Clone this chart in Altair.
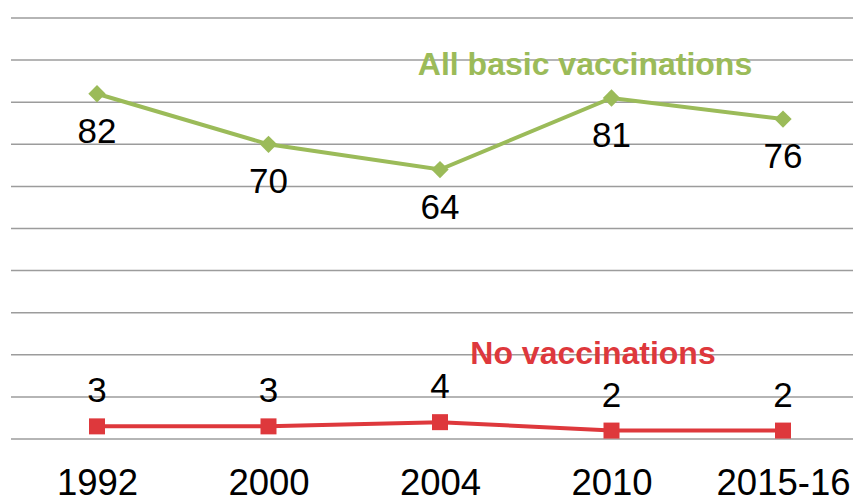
import altair as alt
import pandas as pd

years = ["1992", "2000", "2004", "2010", "2015-16"]
all_basic = [82, 70, 64, 81, 76]
no_vacc = [3, 3, 4, 2, 2]
grid_values = list(range(0, 101, 10))

GREEN = "#9BBB59"
RED = "#DE383C"
FONT = "Liberation Sans"

df = pd.DataFrame({
    "year": years * 2,
    "value": all_basic + no_vacc,
    "series": ["All basic vaccinations"] * len(years) + ["No vaccinations"] * len(years),
})
green_df = df[df.series == "All basic vaccinations"]
red_df = df[df.series == "No vaccinations"]
grid_df = pd.DataFrame({"g": grid_values})

x = alt.X("year:N", sort=years, title=None,
          scale=alt.Scale(type="point", range=[86, 772], padding=0),
          axis=alt.Axis(labelAngle=0, labelFontSize=36.5, labelFont=FONT, labelColor="#000000",
                        labelBaseline="alphabetic", labelPadding=55, ticks=False, domain=False,
                        grid=False))
yscale = alt.Scale(domain=[0, 100], nice=False, zero=True)
y = alt.Y("value:Q", title=None, scale=yscale, axis=None)

grid = alt.Chart(grid_df).mark_rule(color="#9c9c9c", strokeWidth=1.5).encode(
    y=alt.Y("g:Q", scale=yscale, axis=None), x=alt.value(0), x2=alt.value(842))

green_line = alt.Chart(green_df).mark_line(color=GREEN, strokeWidth=4).encode(x=x, y=y)
green_pts = alt.Chart(green_df).mark_point(shape="diamond", filled=True, size=300,
                                           color=GREEN, opacity=1).encode(x=x, y=y)
green_txt = alt.Chart(green_df).mark_text(font=FONT, fontSize=35, color="#000000",
                                          baseline="alphabetic", dy=49).encode(
    x=x, y=y, text="value:Q")

red_line = alt.Chart(red_df).mark_line(color=RED, strokeWidth=4).encode(x=x, y=y)
red_pts = alt.Chart(red_df).mark_point(shape="square", filled=True, size=256,
                                       color=RED, opacity=1).encode(x=x, y=y)
red_txt = alt.Chart(red_df).mark_text(font=FONT, fontSize=35, color="#000000",
                                      baseline="alphabetic", dy=-24).encode(
    x=x, y=y, text="value:Q")

green_label = alt.Chart(pd.DataFrame({"t": ["All basic vaccinations"]})).mark_text(
    font=FONT, fontSize=32, fontWeight="bold", color=GREEN, baseline="alphabetic",
    align="center").encode(x=alt.value(574), y=alt.value(57), text="t:N")
red_label = alt.Chart(pd.DataFrame({"t": ["No vaccinations"]})).mark_text(
    font=FONT, fontSize=32, fontWeight="bold", color=RED, baseline="alphabetic",
    align="center").encode(x=alt.value(582), y=alt.value(346), text="t:N")

chart = alt.layer(
    grid, green_line, green_pts, green_txt, red_line, red_pts, red_txt, green_label, red_label
).properties(
    width=842, height=421,
    padding={"left": 3, "top": 10, "right": 0, "bottom": 64},
    autosize=alt.AutoSizeParams(type="none"),
    background="#ffffff",
).configure_view(stroke=None)

chart.save("out.html", embed_options={"renderer": "svg", "actions": False})
